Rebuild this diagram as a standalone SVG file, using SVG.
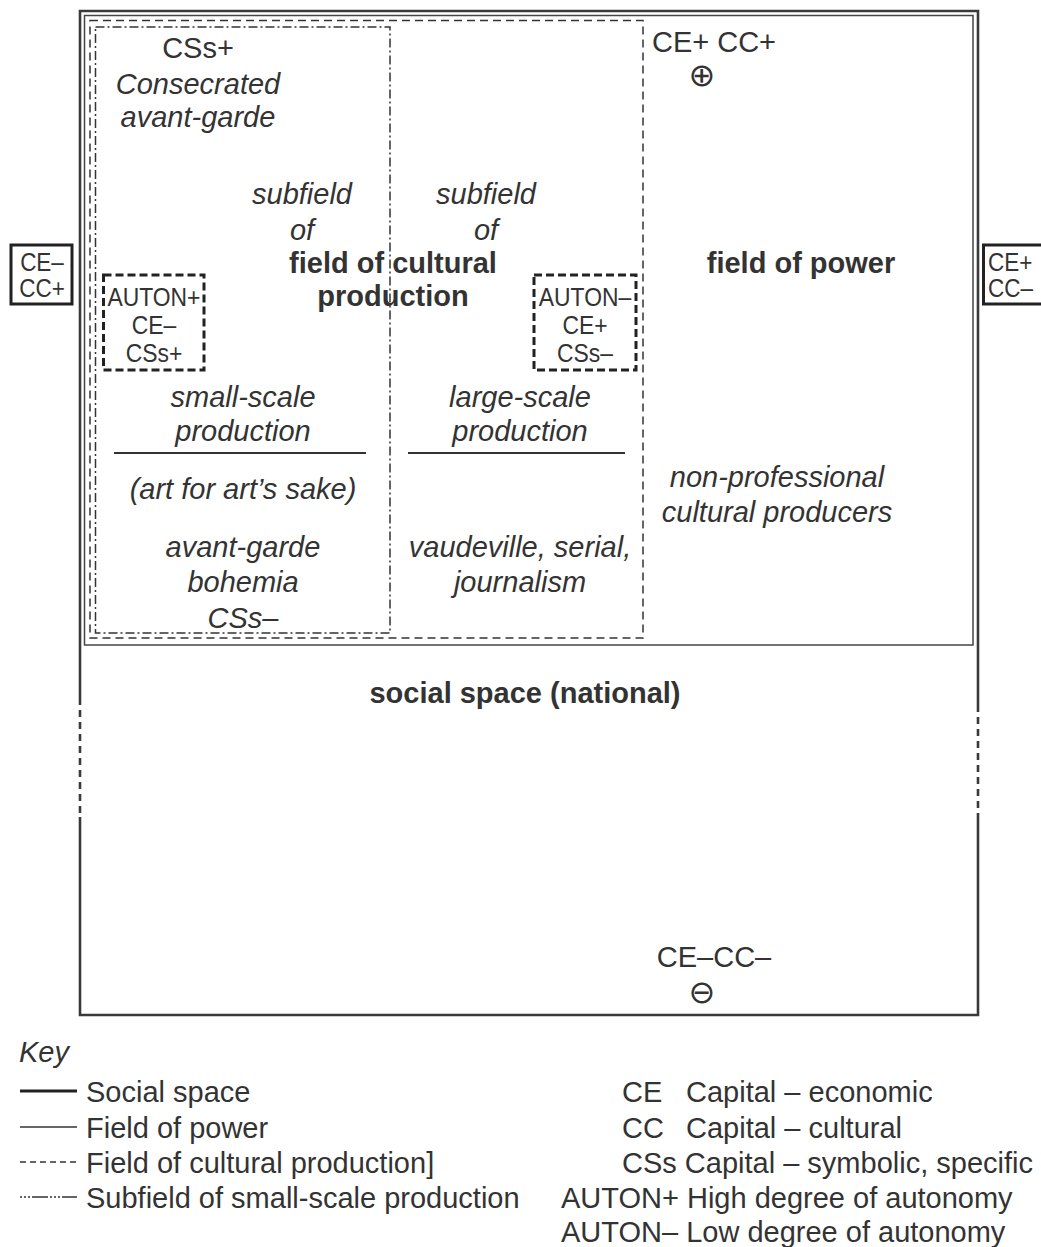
<svg xmlns="http://www.w3.org/2000/svg" width="1041" height="1247" viewBox="0 0 1041 1247">
<style>
text{font-family:"Liberation Sans",Arial,sans-serif;font-size:29px;fill:#333}
.i{font-style:italic}
.b{font-weight:bold}
.m{text-anchor:middle}
.n{font-size:26px}
.social{fill:none;stroke:#3a3a3a;stroke-width:2.6}
.power{fill:none;stroke:#444;stroke-width:1.5}
.cult{fill:none;stroke:#333;stroke-width:1.5;stroke-dasharray:8 5}
.sub{fill:none;stroke:#333;stroke-width:1.5;stroke-dasharray:9 3 2 3}
.auton{fill:none;stroke:#222;stroke-width:3;stroke-dasharray:8 4}
.sym{font-family:"DejaVu Sans",sans-serif;font-size:32px}
</style>
<rect width="1041" height="1247" fill="#fff"/>

<g id="social-space">
<path class="social" d="M80,698 V11 H978 V705 M978,817 V1015 H80 V817"/>
<path class="social" d="M80,698 V817 M978,705 V817" stroke-width="3" stroke-dasharray="7 5"/>
<text class="b m" x="525" y="703">social space (national)</text>
<text class="m" x="714" y="967">CE–CC–</text>
<text class="sym m" x="702" y="1003">⊖</text>
</g>

<g id="field-of-power">
<rect class="power" x="84.5" y="15.5" width="888.5" height="629.5"/>
<text class="b m" x="801" y="273">field of power</text>
<text class="m" x="714" y="52">CE+ CC+</text>
<text class="sym m" x="702" y="86">⊕</text>
<text class="i m" x="777" y="487">non-professional</text>
<text class="i m" x="777" y="522">cultural producers</text>
</g>

<g id="field-of-cultural-production">
<rect class="cult" x="90" y="20.5" width="553" height="617.5"/>
<text class="i m" x="486" y="204">subfield</text>
<text class="i m" x="486" y="240">of</text>
<text class="b m" x="393" y="273">field of cultural</text>
<text class="b m" x="393" y="306">production</text>
<text class="i m" x="520" y="407">large-scale</text>
<text class="i m" x="520" y="441">production</text>
<line x1="408" y1="453" x2="625" y2="453" stroke="#333" stroke-width="2"/>
<text class="i m" x="520" y="557">vaudeville, serial,</text>
<text class="i m" x="520" y="592">journalism</text>
</g>

<g id="subfield-small-scale">
<rect class="sub" x="95.5" y="27" width="294.5" height="606"/>
<text class="m" x="198" y="58">CSs+</text>
<text class="i m" x="198" y="94">Consecrated</text>
<text class="i m" x="198" y="127">avant-garde</text>
<text class="i m" x="302" y="204">subfield</text>
<text class="i m" x="302" y="240">of</text>
<text class="i m" x="243" y="407">small-scale</text>
<text class="i m" x="243" y="441">production</text>
<line x1="114" y1="453" x2="366" y2="453" stroke="#333" stroke-width="2"/>
<text class="i m" x="243" y="499">(art for art’s sake)</text>
<text class="i m" x="243" y="557">avant-garde</text>
<text class="i m" x="243" y="592">bohemia</text>
<text class="i m" x="243" y="628">CSs–</text>
</g>

<g id="auton-plus">
<rect class="auton" x="103.5" y="275" width="100.5" height="95"/>
<g transform="translate(154,0) scale(0.88,1)">
<text class="m n" x="0" y="306">AUTON+</text>
<text class="m n" x="0" y="334">CE–</text>
<text class="m n" x="0" y="362">CSs+</text>
</g>
</g>

<g id="auton-minus">
<rect class="auton" x="534" y="275" width="102" height="95"/>
<g transform="translate(585,0) scale(0.88,1)">
<text class="m n" x="0" y="306">AUTON–</text>
<text class="m n" x="0" y="334">CE+</text>
<text class="m n" x="0" y="362">CSs–</text>
</g>
</g>

<g id="pole-left">
<rect x="11" y="245" width="61" height="59" fill="#fff" stroke="#222" stroke-width="3"/>
<g transform="translate(42,0) scale(0.9,1)">
<text class="m" x="0" y="271" style="font-size:25px">CE–</text>
<text class="m" x="0" y="297" style="font-size:25px">CC+</text>
</g>
</g>

<g id="pole-right">
<rect x="983.5" y="245" width="62" height="59" fill="#fff" stroke="#222" stroke-width="3"/>
<g transform="translate(988,0) scale(0.9,1)">
<text x="0" y="271" style="font-size:25px">CE+</text>
<text x="0" y="297" style="font-size:25px">CC–</text>
</g>
</g>

<g id="key">
<text class="i" x="19" y="1062">Key</text>
<line x1="20" y1="1091" x2="77" y2="1091" stroke="#222" stroke-width="3"/>
<line x1="20" y1="1127" x2="77" y2="1127" stroke="#333" stroke-width="1.5"/>
<line x1="20" y1="1162" x2="77" y2="1162" class="cult" style="stroke-dasharray:6 4"/>
<line x1="20" y1="1197" x2="77" y2="1197" class="sub" style="stroke-dasharray:2 2 2 2 2 2 16 2"/>
<text x="86" y="1102">Social space</text>
<text x="86" y="1138">Field of power</text>
<text x="86" y="1173">Field of cultural production]</text>
<text x="86" y="1208">Subfield of small-scale production</text>
<text x="622" y="1102">CE</text><text x="686" y="1102">Capital – economic</text>
<text x="622" y="1138">CC</text><text x="686" y="1138">Capital – cultural</text>
<text x="622" y="1173">CSs Capital – symbolic, specific</text>
<text x="561" y="1208">AUTON+ High degree of autonomy</text>
<text x="561" y="1242">AUTON– Low degree of autonomy</text>
</g>
</svg>
